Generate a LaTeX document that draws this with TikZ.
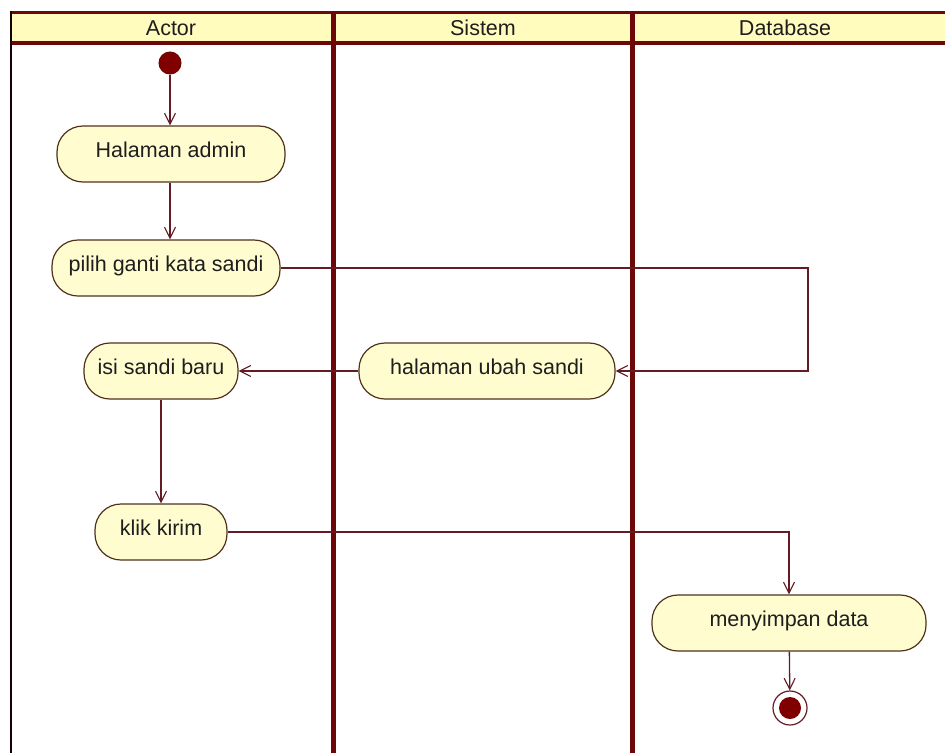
\documentclass[tikz,border=0pt]{standalone}
\usepackage{fontspec}
\setmainfont{Liberation Sans}
\usetikzlibrary{arrows.meta}
\definecolor{lanered}{RGB}{110,8,8}
\definecolor{headfill}{RGB}{255,252,190}
\definecolor{actfill}{RGB}{255,253,208}
\definecolor{actline}{RGB}{80,50,28}
\definecolor{flowcol}{RGB}{100,28,36}
\definecolor{dotred}{RGB}{128,0,0}
\definecolor{inkcol}{RGB}{30,30,30}
\tikzset{
  activity/.style={draw=actline, line width=1.2pt, fill=actfill, rectangle,
    rounded corners=26pt, minimum height=56pt, inner xsep=0pt,
    text height=15pt, text depth=9pt,
    font=\fontsize{21.5}{25}\selectfont, text=inkcol},
  flow/.style={draw=flowcol, line width=1.3pt,
    -{Straight Barb[length=11pt,width=11pt,line width=1.1pt]}},
  lanehead/.style={font=\fontsize{21.5}{25}\selectfont, text=inkcol},
  startdot/.style={circle, fill=dotred, draw=lanered, line width=1pt,
    minimum size=22pt, inner sep=0pt},
  enddot/.style={circle, draw=flowcol, fill=white, line width=1.2pt,
    minimum size=34pt, inner sep=0pt},
}
\begin{document}
\begin{tikzpicture}[x=1pt,y=-1pt]
  \useasboundingbox (0,0) rectangle (945,753);
  \fill[white] (0,0) rectangle (945,753);

  % swimlane frame and header band
  \fill[headfill] (11,12) rectangle (945,43);
  \draw[lanered, line width=3pt] (11,12) -- (945,12);
  \draw[lanered, line width=4pt] (11,43) -- (945,43);
  \draw[black!80!lanered, line width=2.2pt] (11,11) -- (11,753);
  \draw[lanered, line width=5pt] (333,11) -- (333,753);
  \draw[lanered, line width=5pt] (632,11) -- (632,753);

  \node[lanehead] (hActor) at (171,28) {Actor};
  \node[lanehead] (hSistem) at (483,28) {Sistem};
  \node[lanehead] (hDatabase) at (785,28) {Database};

  % activities
  \node[startdot] (start) at (170,63) {};
  \node[activity, minimum width=228pt] (admin) at (171,154) {Halaman admin};
  \node[activity, minimum width=228pt] (pilih) at (166,268) {pilih ganti kata sandi};
  \node[activity, minimum width=154pt] (isi) at (161,371) {isi sandi baru};
  \node[activity, minimum width=256pt] (ubah) at (487,371) {halaman ubah sandi};
  \node[activity, minimum width=132pt] (klik) at (161,532) {klik kirim};
  \node[activity, minimum width=274pt] (simpan) at (789,623) {menyimpan data};
  \node[enddot] (end) at (790,708) {};
  \fill[dotred] (end.center) circle (11pt);

  \coordinate (bendA) at (808,300);

  % control flows
  \draw[flow] (start) -- (start |- admin.north);
  \draw[flow] (start |- admin.south) -- (start |- pilih.north);
  \draw[flow] (pilih.east) -- (pilih.east -| bendA) -- (bendA |- ubah.east) -- (ubah.east);
  \draw[flow] (ubah.west) -- (isi.east);
  \draw[flow] (isi) -- (klik);
  \draw[flow] (klik.east) -- (klik.east -| simpan.north) -- (simpan.north);
  \draw[flow] (simpan) -- (end);
\end{tikzpicture}
\end{document}
